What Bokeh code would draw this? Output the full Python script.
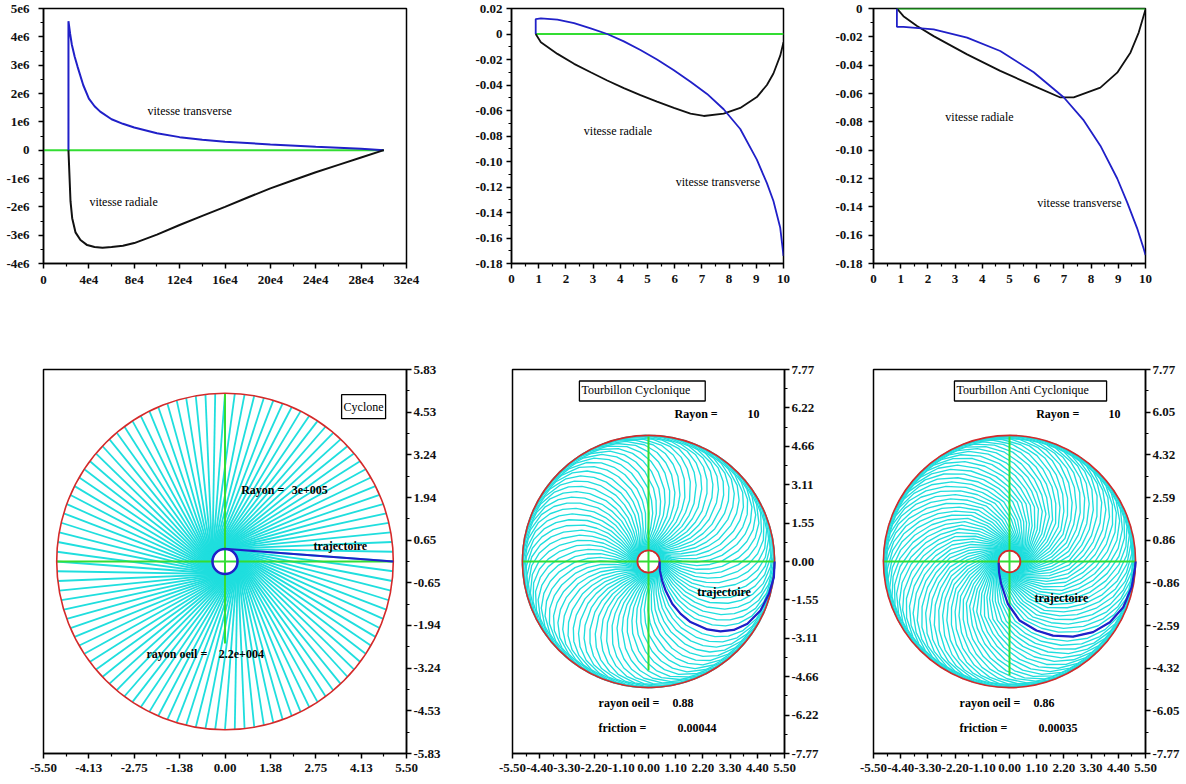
import numpy as np
from bokeh.plotting import figure
from bokeh.models import Range1d, LinearAxis, FixedTicker, CustomJSTickFormatter, Label
from bokeh.layouts import column, row
from bokeh.embed import file_html
from bokeh.resources import INLINE

FONT = "Liberation Serif"
BLUE = "#2020c8"
BLACK = "#111111"
GREEN = "#33dd33"
RED = "#d42a2a"
CYAN = "#1fdede"

# ---------------- data : top-left (cyclone velocities) ----------------
p1_xticks = [0, 4e4, 8e4, 12e4, 16e4, 20e4, 24e4, 28e4, 32e4]
p1_xlabels = ["0", "4e4", "8e4", "12e4", "16e4", "20e4", "24e4", "28e4", "32e4"]
p1_yticks = [-4e6, -3e6, -2e6, -1e6, 0, 1e6, 2e6, 3e6, 4e6, 5e6]
p1_ylabels = ["-4e6", "-3e6", "-2e6", "-1e6", "0", "1e6", "2e6", "3e6", "4e6", "5e6"]
p1_trans_r = [2.2e4, 2.2e4, 2.35e4, 2.5e4, 2.75e4, 3.0e4, 3.5e4, 4.0e4, 4.5e4, 5.0e4, 6.0e4, 7.0e4, 8.0e4, 10e4, 12e4, 14e4, 16e4, 20e4, 24e4, 28e4, 30e4]
p1_trans_v = [0, 4.55e6, 4.1e6, 3.72e6, 3.3e6, 2.95e6, 2.3e6, 1.82e6, 1.55e6, 1.36e6, 1.09e6, 0.93e6, 0.8e6, 0.6e6, 0.46e6, 0.37e6, 0.3e6, 0.2e6, 0.12e6, 0.05e6, 0]
p1_rad_r = [2.2e4, 2.29e4, 2.38e4, 2.53e4, 2.82e4, 3.26e4, 3.85e4, 4.5e4, 5.2e4, 6.0e4, 7.0e4, 8e4, 10e4, 12e4, 14e4, 16e4, 18e4, 20e4, 22e4, 24e4, 26e4, 28e4, 30e4]
p1_rad_v = [0, -0.9e6, -1.8e6, -2.4e6, -2.9e6, -3.17e6, -3.35e6, -3.42e6, -3.44e6, -3.42e6, -3.37e6, -3.28e6, -2.98e6, -2.64e6, -2.32e6, -2.0e6, -1.67e6, -1.35e6, -1.06e6, -0.78e6, -0.52e6, -0.26e6, 0]
p1_zero_r = [0, 30e4]

# ---------------- data : top-middle (cyclonic vortex velocities) ----------------
p2_xticks = list(range(0, 11))
p2_xlabels = [str(v) for v in p2_xticks]
p2_yticks = [0.02, 0, -0.02, -0.04, -0.06, -0.08, -0.10, -0.12, -0.14, -0.16, -0.18]
p2_ylabels = ["0.02", "0", "-0.02", "-0.04", "-0.06", "-0.08", "-0.10", "-0.12", "-0.14", "-0.16", "-0.18"]
p2_trans_r = [0.89, 0.89, 1.08, 1.69, 2.30, 2.91, 3.52, 4.13, 4.74, 5.35, 5.97, 6.58, 7.19, 7.80, 8.41, 9.02, 9.39, 9.63, 9.88, 10.0]
p2_trans_v = [0, 0.0117, 0.0122, 0.0112, 0.0086, 0.0044, 0.0, -0.0058, -0.0125, -0.0200, -0.0285, -0.0375, -0.047, -0.059, -0.0745, -0.0985, -0.117, -0.131, -0.152, -0.174]
p2_rad_r = [0.89, 1.08, 1.69, 2.30, 2.91, 3.52, 4.13, 4.74, 5.35, 5.97, 6.58, 7.07, 7.80, 8.41, 9.02, 9.39, 9.63, 9.88, 10.0]
p2_rad_v = [0, -0.0065, -0.0156, -0.0234, -0.030, -0.0365, -0.0424, -0.048, -0.053, -0.058, -0.0625, -0.0643, -0.0625, -0.058, -0.0495, -0.040, -0.031, -0.017, -0.0065]
p2_zero_r = [0.89, 10.0]

# ---------------- data : top-right (anticyclonic vortex velocities) ----------------
p3_xticks = list(range(0, 11))
p3_xlabels = [str(v) for v in p3_xticks]
p3_yticks = [0, -0.02, -0.04, -0.06, -0.08, -0.10, -0.12, -0.14, -0.16, -0.18]
p3_ylabels = ["0", "-0.02", "-0.04", "-0.06", "-0.08", "-0.10", "-0.12", "-0.14", "-0.16", "-0.18"]
p3_trans_r = [0.86, 0.86, 1.10, 2.21, 3.44, 4.66, 5.89, 7.00, 7.73, 8.34, 8.96, 9.33, 9.69, 9.94, 10.0]
p3_trans_v = [0, -0.0129, -0.0129, -0.0148, -0.0206, -0.030, -0.045, -0.0628, -0.079, -0.0968, -0.120, -0.137, -0.155, -0.170, -0.174]
p3_rad_r = [0.86, 1.10, 1.60, 2.21, 3.44, 4.66, 5.89, 6.87, 7.36, 8.34, 8.96, 9.45, 9.75, 10.0]
p3_rad_v = [0, -0.0054, -0.0124, -0.0195, -0.0324, -0.044, -0.0546, -0.0628, -0.0628, -0.0558, -0.0453, -0.031, -0.017, -0.0007]
p3_zero_r = [0.86, 10.0]

# ---------------- data : bottom row (trajectories) ----------------
b4_xlabels = ["-5.50", "-4.13", "-2.75", "-1.38", "0.00", "1.38", "2.75", "4.13", "5.50"]
b4_ylabels = ["5.83", "4.53", "3.24", "1.94", "0.65", "-0.65", "-1.94", "-3.24", "-4.53", "-5.83"]
b5_xlabels = ["-5.50", "-4.40", "-3.30", "-2.20", "-1.10", "0.00", "1.10", "2.20", "3.30", "4.40", "5.50"]
b5_ylabels = ["7.77", "6.22", "4.66", "3.11", "1.55", "0.00", "-1.55", "-3.11", "-4.66", "-6.22", "-7.77"]
b6_xlabels = b5_xlabels
b6_ylabels = ["7.77", "6.05", "4.32", "2.59", "0.86", "-0.86", "-2.59", "-4.32", "-6.05", "-7.77"]

disk_radius = 5.1
b4_eye = 0.38
b5_eye = 0.45
b6_eye = 0.44
b4_n_lines = 108
b5_n_lines = 84
b6_n_lines = 84

b4_traj_x = [0.07, 5.10]
b4_traj_y = [0.38, 0.00]
b5_traj_x = [0.45, 0.46, 0.55, 0.69, 0.96, 1.30, 1.70, 2.38, 2.91, 3.45, 4.00, 4.53, 4.87, 5.07, 5.10]
b5_traj_y = [0.00, -0.36, -0.77, -1.17, -1.71, -2.12, -2.45, -2.75, -2.83, -2.77, -2.52, -1.98, -1.31, -0.64, 0.00]
b6_traj_x = [-0.44, -0.42, -0.34, -0.07, 0.41, 1.09, 1.76, 2.57, 3.38, 4.06, 4.60, 4.94, 5.08, 5.10]
b6_traj_y = [-0.05, -0.45, -0.90, -1.71, -2.39, -2.79, -3.00, -3.04, -2.86, -2.46, -1.85, -1.04, -0.23, 0.00]

b4_vaxis_y = [5.10, -2.49]
b5_vaxis_y = [5.06, -4.41]
b6_vaxis_y = [5.06, -4.60]

JS = """
let b = 0, d = Infinity;
for (let i = 0; i < tv.length; i++) { const e = Math.abs(tv[i] - tick); if (e < d) { d = e; b = i; } }
return tl[b];
"""


def mkfig(w, h, xr, yr, lb, rb, tb, bb):
    p = figure(width=w, height=h, x_range=Range1d(*xr), y_range=Range1d(*yr),
               output_backend="svg", toolbar_location=None,
               x_axis_location=None, y_axis_location=None,
               min_border_left=lb, min_border_right=rb, min_border_top=tb, min_border_bottom=bb)
    p.grid.visible = False
    p.outline_line_color = "black"
    p.outline_line_width = 1.5
    p.background_fill_color = "white"
    p.border_fill_color = "white"
    return p


def add_axis(p, side, ticks, labels, standoff):
    ticks = [float(t) for t in ticks]
    st = sorted(ticks)
    mids = [(a + b) / 2 for a, b in zip(st[:-1], st[1:])]
    ax = LinearAxis(ticker=FixedTicker(ticks=ticks, minor_ticks=mids),
                    formatter=CustomJSTickFormatter(args=dict(tv=ticks, tl=list(labels)), code=JS))
    ax.axis_line_color = "black"
    ax.axis_line_width = 1.5
    ax.major_tick_in = 0
    ax.major_tick_out = 5
    ax.minor_tick_in = 0
    ax.minor_tick_out = 3
    ax.major_tick_line_width = 1.5
    ax.minor_tick_line_width = 1.2
    ax.major_tick_line_color = "black"
    ax.minor_tick_line_color = "black"
    ax.major_label_text_font = FONT
    ax.major_label_text_font_size = "13px"
    ax.major_label_text_font_style = "bold"
    ax.major_label_text_color = "#111111"
    ax.major_label_standoff = standoff
    p.add_layout(ax, side)


def text(p, x, y, s, bold=False, align="left", pad=None):
    kw = {}
    if pad is not None:
        kw = dict(border_line_color="black", border_line_width=1.3,
                  background_fill_color="white", padding=pad)
    p.add_layout(Label(x=x, y=y, text=s, text_font=FONT, text_font_size="12px",
                       text_font_style="bold" if bold else "normal", text_color="black",
                       text_baseline="middle", text_align=align, **kw))


TOP_H = 340
BOT_H = 442

# ---------------- top row ----------------
p1 = mkfig(456, TOP_H, (0, 32e4), (-4e6, 5e6), 43, 50, 8, 77)
add_axis(p1, "left", p1_yticks, p1_ylabels, 9)
add_axis(p1, "below", p1_xticks, p1_xlabels, 7)
p1.line(p1_zero_r, [0, 0], line_color=GREEN, line_width=2)
p1.line(p1_trans_r, p1_trans_v, line_color=BLUE, line_width=2)
p1.line(p1_rad_r, p1_rad_v, line_color=BLACK, line_width=2)
text(p1, 9.17e4, 1.37e6, "vitesse transverse")
text(p1, 4.05e4, -1.82e6, "vitesse radiale")

p2 = mkfig(357, TOP_H, (0, 10), (-0.18, 0.02), 55, 30, 8, 77)
add_axis(p2, "left", p2_yticks, p2_ylabels, 4)
add_axis(p2, "below", p2_xticks, p2_xlabels, 6)
p2.line(p2_zero_r, [0, 0], line_color=GREEN, line_width=2)
p2.line(p2_rad_r, p2_rad_v, line_color=BLACK, line_width=1.8)
p2.line(p2_trans_r, p2_trans_v, line_color=BLUE, line_width=1.8)
text(p2, 2.66, -0.076, "vitesse radiale")
text(p2, 6.04, -0.116, "vitesse transverse")

p3 = mkfig(370, TOP_H, (0, 10), (-0.18, 0.0), 60, 38, 8, 77)
add_axis(p3, "left", p3_yticks, p3_ylabels, 6)
add_axis(p3, "below", p3_xticks, p3_xlabels, 6)
p3.line(p3_zero_r, [0, 0], line_color=GREEN, line_width=2)
p3.line(p3_rad_r, p3_rad_v, line_color=BLACK, line_width=1.8)
p3.line(p3_trans_r, p3_trans_v, line_color=BLUE, line_width=1.8)
text(p3, 2.64, -0.0769, "vitesse radiale")
text(p3, 6.02, -0.137, "vitesse transverse")


# ---------------- bottom row ----------------
def vortex(p, tx, ty, n, eye, eye_color, vaxis, lw):
    tx = np.asarray(tx, float)
    ty = np.asarray(ty, float)
    xs, ys = [], []
    for k in range(n):
        a = 2 * np.pi * k / n
        c, s = np.cos(a), np.sin(a)
        xs.append(list(tx * c - ty * s))
        ys.append(list(tx * s + ty * c))
    p.multi_line(xs, ys, line_color=CYAN, line_width=lw)
    p.line([-disk_radius, disk_radius], [0, 0], line_color=GREEN, line_width=2)
    p.line([0, 0], vaxis, line_color=GREEN, line_width=2)
    p.circle(x=[0], y=[0], radius=disk_radius, fill_color=None, line_color=RED, line_width=1.6)
    p.circle(x=[0], y=[0], radius=eye, fill_color=None, line_color=eye_color,
             line_width=2.5 if eye_color == BLUE else 1.8)
    p.line(list(tx), list(ty), line_color=BLUE, line_width=2.2)


b4 = mkfig(456, BOT_H, (-5.5, 5.5), (-5.83, 5.83), 43, 50, 29, 29)
add_axis(b4, "below", [float(v) for v in b4_xlabels], b4_xlabels, 5)
add_axis(b4, "right", [float(v) for v in b4_ylabels], b4_ylabels, 2)
vortex(b4, b4_traj_x, b4_traj_y, b4_n_lines, b4_eye, BLUE, b4_vaxis_y, 1.8)
text(b4, 4.2, 4.7, "Cyclone", align="center", pad=(2, 5))
text(b4, 0.49, 2.17, "Rayon =", bold=True)
text(b4, 2.02, 2.17, "3e+005", bold=True)
text(b4, 2.68, 0.485, "trajectoire", bold=True)
text(b4, -2.38, -2.82, "rayon oeil =", bold=True)
text(b4, -0.19, -2.82, "2.2e+004", bold=True)

b5 = mkfig(373, BOT_H, (-5.5, 5.5), (-7.77, 7.77), 56, 45, 29, 29)
add_axis(b5, "below", [float(v) for v in b5_xlabels], b5_xlabels, 5)
add_axis(b5, "right", [float(v) for v in b5_ylabels], b5_ylabels, 2)
vortex(b5, b5_traj_x, b5_traj_y, b5_n_lines, b5_eye, RED, b5_vaxis_y, 1.35)
text(b5, -0.25, 6.9, "Tourbillon  Cyclonique", align="center", pad=(2, 12, 2, 4))
text(b5, 1.05, 5.95, "Rayon =", bold=True)
text(b5, 4.0, 5.95, "10", bold=True)
text(b5, 1.97, -1.24, "trajectoire", bold=True)
text(b5, -2.02, -5.74, "rayon oeil =", bold=True)
text(b5, 0.97, -5.74, "0.88", bold=True)
text(b5, -2.02, -6.75, "friction =", bold=True)
text(b5, 1.17, -6.75, "0.00044", bold=True)

b6 = mkfig(354, BOT_H, (-5.5, 5.5), (-7.77, 7.77), 44, 38, 29, 29)
add_axis(b6, "below", [float(v) for v in b6_xlabels], b6_xlabels, 5)
add_axis(b6, "right", [float(v) for v in b6_ylabels], b6_ylabels, 2)
vortex(b6, b6_traj_x, b6_traj_y, b6_n_lines, b6_eye, RED, b6_vaxis_y, 1.35)
text(b6, 0.85, 6.9, "Tourbillon  Anti Cyclonique", align="center", pad=(2, 14, 2, 4))
text(b6, 1.08, 5.95, "Rayon =", bold=True)
text(b6, 4.0, 5.95, "10", bold=True)
text(b6, 1.01, -1.46, "trajectoire", bold=True)
text(b6, -2.02, -5.74, "rayon oeil =", bold=True)
text(b6, 0.97, -5.74, "0.86", bold=True)
text(b6, -2.02, -6.75, "friction =", bold=True)
text(b6, 1.17, -6.75, "0.00035", bold=True)

layout = column(row(p1, p2, p3), row(b4, b5, b6))
open("out.html", "w").write(file_html(layout, INLINE))
